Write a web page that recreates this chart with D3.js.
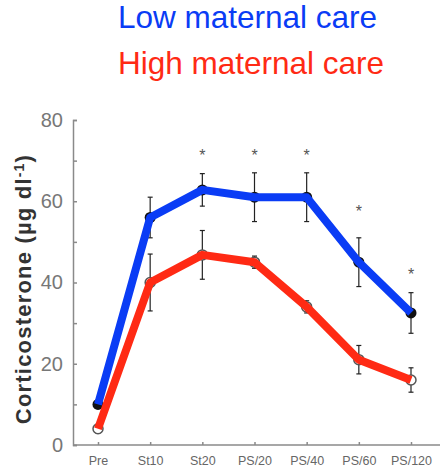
<!DOCTYPE html>
<html>
  <head>
    <meta charset="utf-8"/>
    <script type="text/javascript" src="https://cdnjs.cloudflare.com/ajax/libs/d3/7.8.5/d3.min.js"></script>
    <style type="text/css">

html, body {
  margin: 0;
  padding: 0;
  background: #fff;
}

svg {
  display: block;
  font-family: "Liberation Sans", Arial, sans-serif;
}

.axis path, .axis line {
  stroke: #8a8a8a;
  stroke-width: 1.5px;
}

.axis text {
  fill: #777;
}

.err {
  stroke: #222;
  stroke-width: 1.2px;
}

    </style>
  </head>
  <body>
    <div id="chart"></div>
    <script type="text/javascript">

// Values
var timepoints = ["Pre", "St10", "St20", "PS/20", "PS/40", "PS/60", "PS/120"];
var lowCare = [10, 56, 62.8, 61, 61, 45, 32.5];
var lowCareSE = [1, 5, 4, 6, 6, 6, 5];
var highCare = [4, 40, 46.8, 45, 34, 21, 16];
var highCareSE = [1, 7, 6, 1.5, 1.5, 3.5, 3];
var starred = [null, null, 72, 72, 72, 58, 42.5];
var yTicks = [0, 20, 40, 60, 80];
var yMinorTicks = [10, 30, 50, 70];

var width = 440, height = 473;

var svg = d3.select("#chart").append("svg")
    .attr("width", width)
    .attr("height", height);

var x = d3.scalePoint()
    .domain(timepoints)
    .range([98, 411]);

var y = d3.scaleLinear()
    .domain([0, 80])
    .range([445, 120]);

// Legend-style title
svg.append("text")
    .attr("x", 118).attr("y", 28)
    .style("font-size", "31.5px")
    .style("fill", "#0a3cf5")
    .text("Low maternal care");

svg.append("text")
    .attr("x", 118).attr("y", 74)
    .style("font-size", "31.5px")
    .style("fill", "#ff2a14")
    .text("High maternal care");

// Y axis
svg.append("g")
    .attr("class", "axis")
    .attr("transform", "translate(73,0)")
    .call(d3.axisLeft(y).tickValues(yTicks).tickSize(-4).tickPadding(10))
    .call(function(g) { g.selectAll("text").style("font-size", "20px"); });

svg.append("g")
    .attr("class", "axis")
    .attr("transform", "translate(73,0)")
    .call(d3.axisLeft(y).tickValues(yMinorTicks).tickSize(-4).tickFormat(""))
    .call(function(g) { g.select("path").remove(); });

// X axis
var xAxis = svg.append("g")
    .attr("class", "axis")
    .attr("transform", "translate(0,445)")
    .call(d3.axisBottom(x).tickSize(-3).tickPadding(11).tickSizeOuter(0));
xAxis.select("path").attr("d", "M73,0H440");
xAxis.selectAll("text").style("font-size", "12.5px").style("fill", "#666");

svg.append("text")
    .attr("transform", "translate(31,289) rotate(-90)")
    .attr("text-anchor", "middle")
    .style("font-size", "22px")
    .style("letter-spacing", "1.2px")
    .style("font-weight", "bold")
    .style("fill", "#333")
    .html("Corticosterone (µg dl<tspan dy='-7' font-size='14px'>-1</tspan><tspan dy='7'>)</tspan>");

// Error bars
function errorBars(values, se) {
  var g = svg.append("g");
  values.forEach(function(v, i) {
    var cx = x(timepoints[i]);
    g.append("line").attr("class", "err")
        .attr("x1", cx).attr("x2", cx)
        .attr("y1", y(v + se[i])).attr("y2", y(v - se[i]));
    [v + se[i], v - se[i]].forEach(function(e) {
      g.append("line").attr("class", "err")
          .attr("x1", cx - 2.5).attr("x2", cx + 2.5)
          .attr("y1", y(e)).attr("y2", y(e));
    });
  });
}
errorBars(lowCare, lowCareSE);
errorBars(highCare, highCareSE);

// Original markers
svg.append("g").selectAll("circle")
    .data(lowCare)
  .enter().append("circle")
    .attr("cx", function(d, i) { return x(timepoints[i]); })
    .attr("cy", function(d) { return y(d); })
    .attr("r", 5.5)
    .style("fill", "#111");

svg.append("g").selectAll("circle")
    .data(highCare)
  .enter().append("circle")
    .attr("cx", function(d, i) { return x(timepoints[i]); })
    .attr("cy", function(d) { return y(d); })
    .attr("r", 5)
    .style("fill", "#fff")
    .style("stroke", "#555")
    .style("stroke-width", 1.5);

// Significance stars
var stars = starred
    .map(function(v, i) { return { t: timepoints[i], v: v }; })
    .filter(function(d) { return d.v !== null; });

svg.append("g").selectAll("text")
    .data(stars)
  .enter().append("text")
    .attr("x", function(d) { return x(d.t); })
    .attr("y", function(d) { return y(d.v) + 8; })
    .attr("text-anchor", "middle")
    .style("font-size", "16px")
    .style("fill", "#555")
    .text("*");

// Thick coloured lines drawn over the points
var line = d3.line()
    .x(function(d, i) { return x(timepoints[i]); })
    .y(function(d) { return y(d); });

svg.append("path")
    .datum(lowCare)
    .attr("d", line)
    .style("fill", "none")
    .style("stroke", "#0a3cf5")
    .style("stroke-width", 8)
    .style("stroke-linejoin", "round");

svg.append("path")
    .datum(highCare)
    .attr("d", line)
    .style("fill", "none")
    .style("stroke", "#ff2a14")
    .style("stroke-width", 8)
    .style("stroke-linejoin", "round");

    </script>
  </body>
</html>
